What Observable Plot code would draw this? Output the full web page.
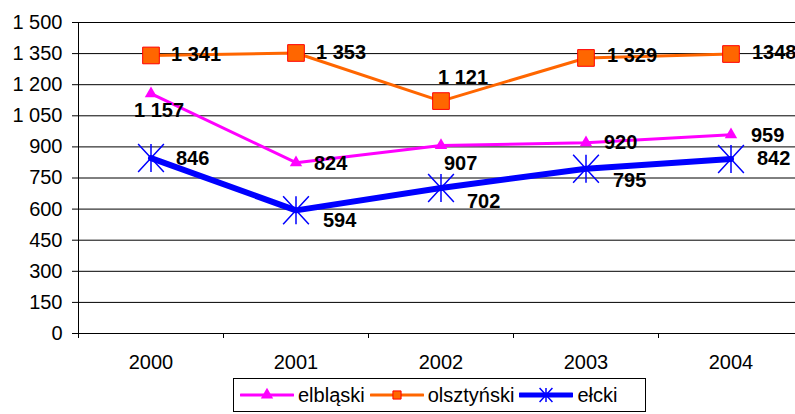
<!DOCTYPE html>
<html>
<head>
<meta charset="utf-8">
<script src="https://cdn.jsdelivr.net/npm/d3@7"></script>
<script src="https://cdn.jsdelivr.net/npm/@observablehq/plot@0.6"></script>
<style>
  html, body { margin: 0; padding: 0; background: #fff; }
  #wrap { position: relative; width: 795px; height: 414px; font-family: "Liberation Sans", Arial, sans-serif; }
  #legend { position: absolute; left: 233px; top: 378px; width: 413px; height: 34px; border: 1px solid #000; background: #fff;
            display: flex; align-items: center; font-size: 20px; color: #000; box-sizing: border-box; padding-left: 6px; }
  #legend .item { display: flex; align-items: center; margin-right: 5px; }
  #legend svg { margin-right: 4px; }
</style>
</head>
<body>
<div id="wrap"></div>
<script>
// ---- data ----
const years = [2000, 2001, 2002, 2003, 2004];
const seriesNames = ["elbląski", "olsztyński", "ełcki"];
const elblaski = [1157, 824, 907, 920, 959];
const olsztynski = [1341, 1353, 1121, 1329, 1348];
const elcki = [846, 594, 702, 795, 842];
const elblaskiLabels = ["1 157", "824", "907", "920", "959"];
const olsztynskiLabels = ["1 341", "1 353", "1 121", "1 329", "1348"];
const elckiLabels = ["846", "594", "702", "795", "842"];
const yTicks = [0, 150, 300, 450, 600, 750, 900, 1050, 1200, 1350, 1500];

// ---- styling / layout ----
const fmt = d3.formatLocale({thousands: " ", grouping: [3], decimal: ","}).format(",");
const starSymbol = {
  draw(ctx, size) {
    const h = Math.sqrt(size / Math.PI);
    const w = h * 0.92;
    ctx.moveTo(0, -h); ctx.lineTo(0, h);
    ctx.moveTo(-w, -h); ctx.lineTo(w, h);
    ctx.moveTo(w, -h); ctx.lineTo(-w, h);
  }
};
const styles = [
  {stroke: "#FF00FF", width: 3, symbol: "triangle", r: 4.6, fill: "#FF00FF", mstroke: "none", msw: 0},
  {stroke: "#FF6600", width: 3, symbol: "square", r: 9.4, fill: "#FF6600", mstroke: "#FF0000", msw: 1},
  {stroke: "#0000FF", width: 6, symbol: starSymbol, r: 14, fill: "none", mstroke: "#0000FF", msw: 1.5}
];
// label offsets (dx, dy) relative to each point
const labelOffsets = [
  [[-17, 17], [18, 1], [3, 18], [18, 0], [20, 1]],
  [[20, -1], [20, 0], [-3, -23], [21, -2], [21, -1]],
  [[25, 0], [27, 10], [26, 14], [27, 12], [26, 0]]
];

const values = [elblaski, olsztynski, elcki];
const labels = [elblaskiLabels, olsztynskiLabels, elckiLabels];
const rows = values.map((vals, s) => years.map((yr, i) => ({series: seriesNames[s], year: yr, value: vals[i], label: labels[s][i]})));
const boundaries = years.map(y => y - 0.5).concat([years[years.length - 1] + 0.5]);

const marks = [
  Plot.gridY(yTicks, {stroke: "#000", strokeOpacity: 1}),
  Plot.axisY({ticks: yTicks, tickSize: 6, tickPadding: 10, tickFormat: fmt, fontSize: 20, label: null}),
  Plot.axisX({ticks: boundaries, tickSize: 5, tickFormat: () => "", label: null}),
  Plot.axisX({ticks: years, tickSize: 0, tickPadding: 21, tickFormat: d => String(d), fontSize: 20, label: null}),
  Plot.ruleY([0], {stroke: "#000"}),
  Plot.ruleX([boundaries[0]], {stroke: "#000"})
];
rows.forEach((data, s) => {
  const st = styles[s];
  marks.push(Plot.line(data, {x: "year", y: "value", stroke: st.stroke, strokeWidth: st.width}));
  marks.push(Plot.dot(data, {x: "year", y: "value", symbol: () => st.symbol, r: st.r, fill: st.fill, stroke: st.mstroke, strokeWidth: st.msw}));
});
rows.forEach((data, s) => {
  data.forEach((d, i) => {
    const [dx, dy] = labelOffsets[s][i];
    marks.push(Plot.text([d], {x: "year", y: "value", text: "label", dx, dy, textAnchor: "start",
      fontSize: 20, fontWeight: "bold", fill: "#000"}));
  });
});

const chart = Plot.plot({
  width: 795,
  height: 375,
  marginLeft: 78,
  marginRight: 0,
  marginTop: 22,
  marginBottom: 42,
  style: {fontFamily: "'Liberation Sans', Arial, sans-serif", color: "#000", background: "#fff", overflow: "visible"},
  x: {type: "linear", domain: [boundaries[0], boundaries[boundaries.length - 1]], range: [78, 803]},
  y: {domain: [0, 1500]},
  symbol: {type: "identity"},
  marks
});
const wrap = document.getElementById("wrap");
wrap.appendChild(chart);

// ---- legend ----
const legend = document.createElement("div");
legend.id = "legend";
seriesNames.forEach((name, s) => {
  const st = styles[s];
  const item = document.createElement("div");
  item.className = "item";
  const sw = d3.create("svg").attr("width", 54).attr("height", 20);
  sw.append("line").attr("x1", 1).attr("x2", 53).attr("y1", 10).attr("y2", 10)
    .attr("stroke", st.stroke).attr("stroke-width", s === 2 ? 5 : 3).attr("stroke-linecap", "round");
  const sym = typeof st.symbol === "string" ? (st.symbol === "triangle" ? d3.symbolTriangle : d3.symbolSquare) : st.symbol;
  const lr = s === 0 ? 4.6 : s === 1 ? 4.6 : 7;
  sw.append("path").attr("transform", "translate(27,10)")
    .attr("d", d3.symbol(sym, Math.PI * lr * lr)())
    .attr("fill", st.fill).attr("stroke", st.mstroke).attr("stroke-width", st.msw);
  item.appendChild(sw.node());
  const t = document.createElement("span");
  t.textContent = name;
  item.appendChild(t);
  legend.appendChild(item);
});
wrap.appendChild(legend);
</script>
</body>
</html>
